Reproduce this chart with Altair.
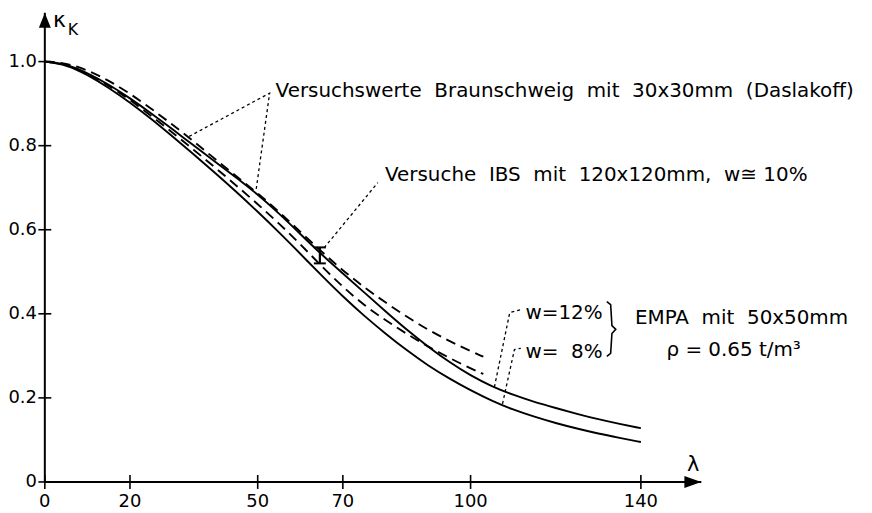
import altair as alt
import pandas as pd

# ---------------- data ----------------
lam_empa = [0, 5, 10, 15, 20, 25, 30, 35, 40, 45, 50, 55, 60, 65, 70, 75, 80, 85, 90, 95,
            100, 105, 110, 115, 120, 125, 130, 135, 140]
kappa_w12 = [1.0, 0.995, 0.973, 0.946, 0.913, 0.877, 0.839, 0.8, 0.762, 0.724, 0.684, 0.639,
             0.59, 0.541, 0.496, 0.451, 0.406, 0.362, 0.322, 0.285, 0.253, 0.227, 0.207, 0.19,
             0.176, 0.162, 0.149, 0.138, 0.128]
kappa_w8 = [1.0, 0.993, 0.969, 0.938, 0.903, 0.864, 0.822, 0.779, 0.735, 0.69, 0.643, 0.594,
            0.543, 0.491, 0.441, 0.395, 0.353, 0.313, 0.277, 0.246, 0.218, 0.193, 0.172, 0.155,
            0.14, 0.127, 0.115, 0.105, 0.095]

lam_bs = [0, 5, 10, 15, 20, 25, 30, 35, 40, 45, 50, 55, 60, 65, 70, 75, 80, 85, 90, 95, 100, 103]
kappa_bs_upper = [1.0, 0.997, 0.98, 0.955, 0.924, 0.888, 0.85, 0.81, 0.768, 0.727, 0.687, 0.643,
                  0.595, 0.548, 0.503, 0.463, 0.427, 0.393, 0.362, 0.335, 0.311, 0.298]
kappa_bs_lower = [1.0, 0.995, 0.972, 0.943, 0.909, 0.871, 0.831, 0.79, 0.748, 0.705, 0.661, 0.615,
                  0.566, 0.513, 0.464, 0.42, 0.385, 0.352, 0.322, 0.295, 0.27, 0.257]

# IBS test value (range bar)
ibs_lam = [64.6]
ibs_low = [0.52]
ibs_high = [0.558]

x_tick_values = [0, 20, 50, 70, 100, 140]
x_tick_labels = ["0", "20", "50", "70", "100", "140"]
y_tick_values = [0, 0.2, 0.4, 0.6, 0.8, 1.0]
y_tick_labels = ["0", "0.2", "0.4", "0.6", "0.8", "1.0"]

X_DOMAIN = [0, 155]
Y_DOMAIN = [0, 1.12]
X_AXIS_END = 154.2
Y_AXIS_END = 1.116

# annotations (data coordinates)
ann_texts = ["Versuchswerte \u00a0Braunschweig \u00a0mit \u00a030x30mm \u00a0(Daslakoff)",
             "Versuche \u00a0IBS \u00a0mit \u00a0120x120mm, \u00a0w\u2245 10%",
             "w=12%", "w= \u00a08%",
             "EMPA \u00a0mit \u00a050x50mm", "\u03c1 = 0.65 t/m\u00b3"]
ann_lam = [54.2, 79.9, 112.9, 112.9, 138.6, 146.0]
ann_kappa = [0.929, 0.730, 0.403, 0.310, 0.391, 0.315]

leader_group = ["bs", "bs", "bs", "ibs", "ibs", "w12", "w12", "w12", "w8", "w8", "w8"]
leader_lam = [33.9, 52.8, 49.6, 65.6, 78.2, 105.6, 109.2, 111.8, 107.5, 110.3, 111.8]
leader_kappa = [0.822, 0.925, 0.693, 0.557, 0.712, 0.226, 0.403, 0.41, 0.186, 0.315, 0.318]

brace_lam = [132.0, 132.9, 133.2, 134.1, 133.2, 132.9, 132.0]
brace_kappa = [0.429, 0.422, 0.372, 0.363, 0.353, 0.306, 0.299]


def X(field):
    return alt.X(field, type="quantitative",
                 scale=alt.Scale(domain=X_DOMAIN, nice=False, zero=False), axis=None)


def Y(field):
    return alt.Y(field, type="quantitative",
                 scale=alt.Scale(domain=Y_DOMAIN, nice=False, zero=False), axis=None)


FONT = "DejaVu Sans"

# ---------------- tables ----------------
solid_df = pd.concat([
    pd.DataFrame({"lam": lam_empa, "kappa": kappa_w12, "series": "w12"}),
    pd.DataFrame({"lam": lam_empa, "kappa": kappa_w8, "series": "w8"}),
])
dashed_df = pd.concat([
    pd.DataFrame({"lam": lam_bs, "kappa": kappa_bs_upper, "series": "bs_up"}),
    pd.DataFrame({"lam": lam_bs, "kappa": kappa_bs_lower, "series": "bs_lo"}),
])

solid = alt.Chart(solid_df).mark_line(color="black", strokeWidth=1.9, interpolate="basis").encode(
    x=X("lam"), y=Y("kappa"), detail="series:N")
dashed = alt.Chart(dashed_df).mark_line(color="black", strokeWidth=1.9, strokeDash=[10, 6],
                                        interpolate="basis").encode(
    x=X("lam"), y=Y("kappa"), detail="series:N")

axes_df = pd.DataFrame({"x": [0, 0], "y": [0, 0], "x2": [0, X_AXIS_END], "y2": [Y_AXIS_END, 0]})
axes = alt.Chart(axes_df).mark_rule(color="black", strokeWidth=2).encode(
    x=X("x"), y=Y("y"), x2="x2", y2="y2")

yarrow = alt.Chart(pd.DataFrame({"lam": [0], "kappa": [1.098]})).mark_point(
    shape="M0,-1L0.8,1L-0.8,1Z", size=225, filled=True, color="black", opacity=1).encode(
    x=X("lam"), y=Y("kappa"))
xarrow = alt.Chart(pd.DataFrame({"lam": [152.2], "kappa": [0]})).mark_point(
    shape="M1,0L-1,0.7L-1,-0.7Z", size=289, filled=True, color="black", opacity=1).encode(
    x=X("lam"), y=Y("kappa"))

ytick_df = pd.DataFrame({"lam": [0] * len(y_tick_values), "kappa": y_tick_values, "label": y_tick_labels})
xtick_df = pd.DataFrame({"lam": x_tick_values, "kappa": [0] * len(x_tick_values), "label": x_tick_labels})

yticks = alt.Chart(ytick_df).mark_tick(orient="horizontal", size=13, thickness=1.6, color="black", opacity=1).encode(
    x=X("lam"), y=Y("kappa"))
xticks = alt.Chart(xtick_df).mark_tick(orient="vertical", size=14, thickness=1.6, color="black", opacity=1).encode(
    x=X("lam"), y=Y("kappa"))
ylabels = alt.Chart(ytick_df).mark_text(align="right", baseline="middle", dx=-8, fontSize=18,
                                        font=FONT, color="black").encode(
    x=X("lam"), y=Y("kappa"), text="label:N")
xlabels = alt.Chart(xtick_df).mark_text(align="center", baseline="middle", dy=20, fontSize=18,
                                        font=FONT, color="black").encode(
    x=X("lam"), y=Y("kappa"), text="label:N")

leader_df = pd.DataFrame({"g": leader_group, "lam": leader_lam, "kappa": leader_kappa,
                          "o": list(range(len(leader_lam)))})
leaders = alt.Chart(leader_df).mark_line(color="black", strokeWidth=1.3, strokeDash=[3, 3]).encode(
    x=X("lam"), y=Y("kappa"), detail="g:N", order="o:Q")

brace_df = pd.DataFrame({"lam": brace_lam, "kappa": brace_kappa, "o": list(range(len(brace_lam)))})
brace = alt.Chart(brace_df).mark_line(color="black", strokeWidth=1.6).encode(
    x=X("lam"), y=Y("kappa"), order="o:Q")

ibs_df = pd.DataFrame({"lam": ibs_lam, "lo": ibs_low, "hi": ibs_high})
ibs_rule = alt.Chart(ibs_df).mark_rule(color="black", strokeWidth=2.2).encode(
    x=X("lam"), y=Y("lo"), y2="hi")
ibs_caps = alt.Chart(ibs_df).transform_fold(["lo", "hi"], as_=["end", "val"]).mark_tick(
    orient="horizontal", size=12, thickness=2, color="black", opacity=1).encode(
    x=X("lam"), y=Y("val"))

ann_df = pd.DataFrame({"lam": ann_lam, "kappa": ann_kappa, "label": ann_texts})
ann = alt.Chart(ann_df).mark_text(align="left", baseline="middle", fontSize=20, font=FONT,
                                  color="black").encode(
    x=X("lam"), y=Y("kappa"), text="label:N")

kappa_lbl = alt.Chart(pd.DataFrame({"lam": [1.9], "kappa": [1.1], "t": ["\u03ba"]})).mark_text(
    align="left", baseline="middle", fontSize=22, font=FONT, color="black").encode(
    x=X("lam"), y=Y("kappa"), text="t:N")
k_lbl = alt.Chart(pd.DataFrame({"lam": [5.4], "kappa": [1.075], "t": ["K"]})).mark_text(
    align="left", baseline="middle", fontSize=16, font=FONT, color="black").encode(
    x=X("lam"), y=Y("kappa"), text="t:N")
lam_lbl = alt.Chart(pd.DataFrame({"lam": [152.3], "kappa": [0.04], "t": ["\u03bb"]})).mark_text(
    align="center", baseline="middle", fontSize=21, font=FONT, color="black").encode(
    x=X("lam"), y=Y("kappa"), text="t:N")

chart = alt.layer(
    solid, dashed, leaders, brace, ibs_rule, ibs_caps, axes, yarrow, xarrow,
    yticks, xticks, ylabels, xlabels, ann, kappa_lbl, k_lbl, lam_lbl
).properties(
    width=663, height=473,
    padding={"left": 37, "top": 2, "right": 160, "bottom": 27},
    autosize="none",
    background="white",
).configure_view(stroke=None)

chart.save("out.html", embed_options={"renderer": "svg", "actions": False})
